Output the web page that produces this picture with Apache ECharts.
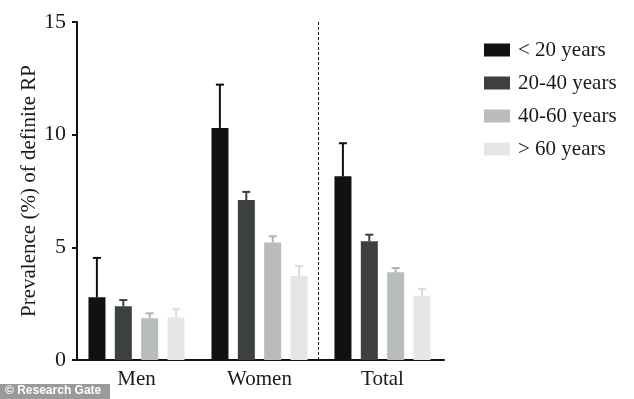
<!DOCTYPE html>
<html>
<head>
<meta charset="utf-8">
<script src="https://cdn.jsdelivr.net/npm/echarts@6/dist/echarts.min.js"></script>
<style>
  html, body { margin: 0; padding: 0; background: #fff; }
  #chart { width: 634px; height: 399px; }
</style>
</head>
<body>
<div id="chart"></div>
<script>
// groups on the x axis
const categories = ['Men', 'Women', 'Total']
const ageGroups = ['< 20 years', '20-40 years', '40-60 years', '> 60 years']

// bar heights (%) per age group, in order Men / Women / Total
const under20 = [2.78, 10.3, 8.15]
const from20to40 = [2.38, 7.1, 5.27]
const from40to60 = [1.85, 5.22, 3.89]
const over60 = [1.89, 3.73, 2.85]

// upper end of the error bars
const under20Err = [4.53, 12.22, 9.62]
const from20to40Err = [2.66, 7.46, 5.56]
const from40to60Err = [2.07, 5.49, 4.08]
const over60Err = [2.25, 4.17, 3.16]

const yTicks = [0, 5, 10, 15]

const values = [under20, from20to40, from40to60, over60]
const errors = [under20Err, from20to40Err, from40to60Err, over60Err]
const colors = ['#111111', '#3d4040', '#b8bcbc', '#e5e6e6']
const errColors = ['#111111', '#3d4040', '#aeb2b2', '#d9dada']

const BAR_W = 17
const BAR_GAP = 9.4
const font = 'Liberation Serif'

const chart = echarts.init(document.getElementById('chart'))

const series = []
values.forEach((v, k) => {
  series.push({
    name: ageGroups[k],
    type: 'bar',
    barWidth: BAR_W,
    barGap: '55%',
    itemStyle: { color: colors[k] },
    data: v
  })
})
values.forEach((v, k) => {
  const offset = (k - 1.5) * (BAR_W + BAR_GAP)
  series.push({
    type: 'custom',
    name: 'err' + k,
    z: 1,
    renderItem(params, api) {
      const top = api.coord([api.value(0), api.value(2)])
      const base = api.coord([api.value(0), api.value(1)])
      const x = top[0] + offset
      const style = { stroke: errColors[k], lineWidth: 2 }
      return {
        type: 'group',
        children: [
          { type: 'line', shape: { x1: x, y1: base[1], x2: x, y2: top[1] }, style },
          { type: 'line', shape: { x1: x - 4, y1: top[1], x2: x + 4, y2: top[1] }, style }
        ]
      }
    },
    data: v.map((val, i) => [i, val, errors[k][i]])
  })
})
// dashed separator between Women and Total
series.push({
  type: 'line',
  xAxisIndex: 1,
  data: [],
  markLine: {
    silent: true,
    symbol: 'none',
    label: { show: false },
    lineStyle: { color: '#111', type: [3, 2], width: 1 },
    data: [{ xAxis: 1.98 }]
  }
})

chart.setOption({
  animation: false,
  grid: { left: 75, width: 369, top: 22, bottom: 39 },
  legend: {
    data: ageGroups,
    orient: 'vertical',
    left: 484,
    top: 39.5,
    padding: 0,
    itemWidth: 26,
    itemHeight: 13,
    itemGap: 12,
    icon: 'rect',
    textStyle: { fontFamily: font, fontSize: 21, color: '#1a1a1a', padding: [0, 0, 0, 3] }
  },
  xAxis: [
    {
      type: 'category',
      data: categories,
      axisLine: { lineStyle: { color: '#111', width: 2 } },
      axisTick: { alignWithLabel: true, length: 6, lineStyle: { width: 2, color: '#111' } },
      axisLabel: { fontFamily: font, fontSize: 21, color: '#1a1a1a', margin: 9 }
    },
    { type: 'value', min: 0, max: 3, show: false }
  ],
  yAxis: {
    type: 'value',
    min: yTicks[0],
    max: yTicks[yTicks.length - 1],
    interval: 5,
    offset: -2,
    name: 'Prevalence (%) of definite RP',
    nameLocation: 'middle',
    nameGap: 37,
    nameMoveOverlap: false,
    nameTextStyle: { fontFamily: font, fontSize: 21, color: '#1a1a1a' },
    axisLine: { show: true, lineStyle: { color: '#111', width: 2 } },
    axisTick: { show: true, length: 5, lineStyle: { width: 2, color: '#111' } },
    axisLabel: { fontFamily: font, fontSize: 22, color: '#1a1a1a', margin: 11 },
    splitLine: { show: false }
  },
  graphic: [
    { type: 'rect', left: 0, top: 384, shape: { width: 110, height: 15 }, style: { fill: '#9a9a9a' } },
    { type: 'text', left: 5, top: 385, style: { text: '© Research Gate', fill: '#fff', font: 'bold 12px Arial, Liberation Sans, sans-serif' } }
  ],
  series
})
</script>
</body>
</html>
